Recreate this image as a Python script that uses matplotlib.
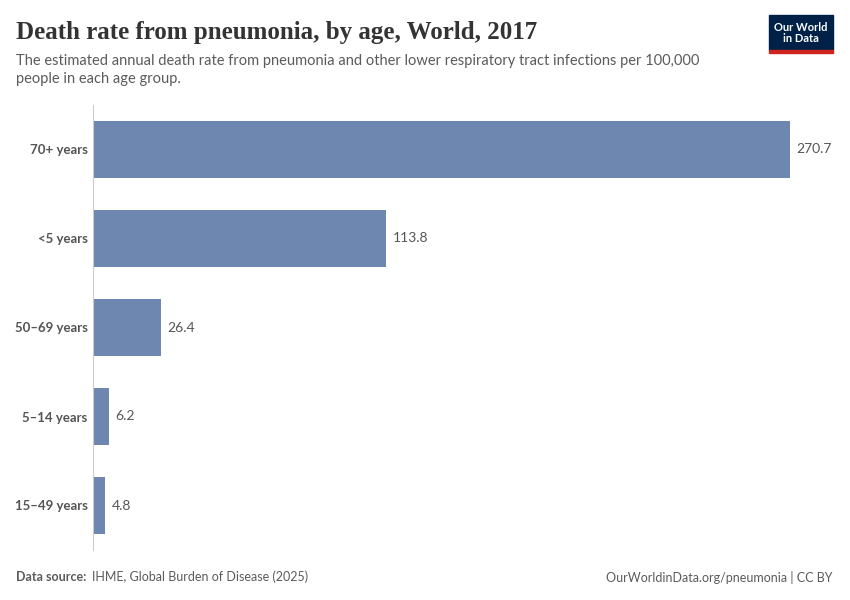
import matplotlib.pyplot as plt
from matplotlib.patches import Rectangle

plt.rcParams['font.family'] = ['Lato', 'DejaVu Sans']

ages = ['70+ years', '<5 years', '50–69 years', '5–14 years', '15–49 years']
rates = [270.7, 113.8, 26.4, 6.2, 4.8]
value_labels = ['270.7', '113.8', '26.4', '6.2', '4.8']

fig = plt.figure(figsize=(8.5, 6), dpi=100)
ax = fig.add_axes([93/850, 50/600, 697/850, 445/600])

pos = list(range(len(ages)))
ax.barh(pos, rates, height=0.65, color='#6D87B0')
for p, v, lab in zip(pos, rates, value_labels):
    ax.text(v + 2.5, p, lab, va='center', ha='left', fontsize=10, color='#555555')

ax.set_ylim(4.5, -0.5)
ax.set_xlim(0, 270.7)
ax.set_yticks(pos)
ax.set_yticklabels(ages, fontsize=9.5, fontweight='bold', color='#555555')
ax.tick_params(axis='y', length=0, pad=4)
ax.set_xticks([])
for s in ['top', 'right', 'bottom']:
    ax.spines[s].set_visible(False)
ax.spines['left'].set_color('#cccccc')

fig.text(16/850, 1 - 33/600, 'Death rate from pneumonia, by age, World, 2017',
         family=['Liberation Serif', 'DejaVu Serif'], fontsize=18, fontweight='bold',
         color='#333333', va='center')
fig.text(16/850, 1 - 70/600,
         'The estimated annual death rate from pneumonia and other lower respiratory tract infections per 100,000\npeople in each age group.',
         fontsize=10.5, color='#5b5b5b', va='center', linespacing=1.3)

fig.text(16/850, 1 - 577/600, 'Data source: ', fontsize=9, color='#5b5b5b', fontweight='bold', va='center')
fig.text(92/850, 1 - 577/600, 'IHME, Global Burden of Disease (2025)', fontsize=9, color='#5b5b5b', va='center')
fig.text(833/850, 1 - 577/600, 'OurWorldinData.org/pneumonia | CC BY', fontsize=9, color='#5b5b5b',
         va='center', ha='right')

fig.patches.append(Rectangle((769/850, 1 - 50/600), 64/850, 35/600, transform=fig.transFigure,
                             color='#002147'))
fig.patches.append(Rectangle((769/850, 1 - 53/600), 64/850, 3/600, transform=fig.transFigure,
                             color='#ce261e'))
fig.text(801/850, 1 - 33/600, 'Our World\nin Data', fontsize=8, color='white', fontweight='bold',
         ha='center', va='center', linespacing=1.1)

fig.savefig('out.png', dpi=100)
